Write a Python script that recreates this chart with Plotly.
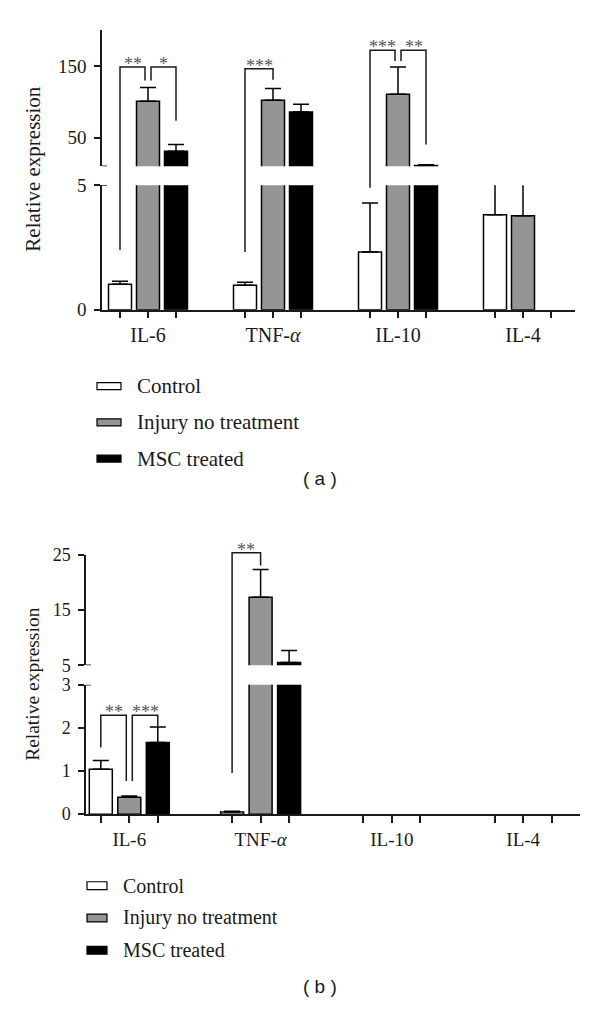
import plotly.graph_objects as go

# ---------------- data ----------------
CYTOKINES = ["IL-6", "TNF-<i>α</i>", "IL-10", "IL-4"]
SERIES = ["Control", "Injury no treatment", "MSC treated"]

# panel (a)
A_CONTROL = [1.02, 0.98, 2.32, 3.82]
A_CONTROL_ERR = [0.12, 0.12, 1.97, 1.5]
A_INJURY = [100.7, 102.0, 110.3, 3.78]
A_INJURY_ERR = [19.2, 16.5, 38.3, 1.5]
A_MSC = [30.8, 85.6, 11.0, None]
A_MSC_ERR = [9.6, 11.0, 1.1, None]

# panel (b)
B_CONTROL = [1.045, 0.05, None, None]
B_CONTROL_ERR = [0.2, 0.02, None, None]
B_INJURY = [0.39, 17.3, None, None]
B_INJURY_ERR = [0.03, 5.0, None, None]
B_MSC = [1.66, 5.5, None, None]
B_MSC_ERR = [0.36, 2.15, None, None]

# significance brackets: (group, left bar, right bar, left foot, top, right foot, label)
A_BRACKETS = [
    (0, 0, 1, 2.4, 148.6, 129.5, "**"),
    (0, 1, 2, 129.5, 148.6, 73.3, "*"),
    (1, 0, 1, 2.32, 145.9, 130.8, "***"),
    (2, 0, 1, 4.9, 171.9, 156.9, "***"),
    (2, 1, 2, 156.9, 171.9, 40.4, "**"),
]
B_BRACKETS = [
    (0, 0, 1, 1.545, 2.295, 0.77, "**"),
    (0, 1, 2, 0.77, 2.295, 2.045, "***"),
    (1, 0, 1, 0.955, 25.35, 23.05, "**"),
]

# ---------------- styling / layout ----------------
W, H = 600, 1024
FILLS = ["#ffffff", "#959595", "#000000"]
SERIF = "Liberation Serif, Times New Roman, serif"
SANS = "Liberation Sans, Arial, sans-serif"
INK = "#1a1a1a"


def py(px):
    return 1 - px / H


PANELS = [
    dict(
        xa="x", ylo="y", yhi="y2",
        x_px=(102, 575), c0=148.0, step=125.0, bar_px=28.0, width_px=23.0,
        lo_px=(306, 179), lo_range=(0, 5), lo_ticks=[0, 5],
        hi_px=(159.5, 20.5), hi_range=(10, 200), hi_ticks=[50, 150],
        tickfont=19, labfont=20,
        data=[(A_CONTROL, A_CONTROL_ERR), (A_INJURY, A_INJURY_ERR), (A_MSC, A_MSC_ERR)],
        brackets=A_BRACKETS,
        title_y=162, title_size=21,
        legend=dict(box_x=(97, 121), box_h=7, ys=[384, 421, 458], text_x=135, size=21),
        tag="( a )", tag_y=478,
    ),
    dict(
        xa="x2", ylo="y3", yhi="y4",
        x_px=(86, 580), c0=129.3, step=131.3, bar_px=28.5, width_px=23.0,
        lo_px=(821, 689), lo_range=(0, 3), lo_ticks=[0, 1, 2, 3],
        hi_px=(669, 556), hi_range=(5, 25), hi_ticks=[5, 15, 25],
        tickfont=18, labfont=19,
        data=[(B_CONTROL, B_CONTROL_ERR), (B_INJURY, B_INJURY_ERR), (B_MSC, B_MSC_ERR)],
        brackets=B_BRACKETS,
        title_y=689, title_size=19.5,
        legend=dict(box_x=(87, 107), box_h=8, ys=[894, 927, 960], text_x=121, size=20),
        tag="( b )", tag_y=997,
    ),
]


def axname(ref):
    return ref[0] + "axis" + ref[1:]


fig = go.Figure()
layout = dict(
    width=W, height=H, margin=dict(l=0, r=0, t=0, b=0),
    paper_bgcolor="white", plot_bgcolor="white",
    barmode="overlay", showlegend=False,
)
shapes = []
annotations = []

for p in PANELS:
    n = len(CYTOKINES)
    off = p["bar_px"] / p["step"]
    bw = p["width_px"] / p["step"]

    def xpos(g, j, p=p, off=off):
        return g + (j - 1) * off

    xr = [(p["x_px"][0] - p["c0"]) / p["step"], (p["x_px"][1] - p["c0"]) / p["step"]]

    # bars in both segments of the broken axis
    for seg in ("ylo", "yhi"):
        for j, (vals, errs) in enumerate(p["data"]):
            fig.add_trace(go.Bar(
                x=[xpos(g, j) for g in range(n)],
                y=vals,
                width=bw,
                marker=dict(color=FILLS[j], line=dict(color="#000000", width=1.5)),
                error_y=dict(type="data", symmetric=False,
                             array=[e if e is not None else 0 for e in errs],
                             arrayminus=[0] * n,
                             color="#000000", thickness=1.5, width=8),
                xaxis=p["xa"], yaxis=p[seg],
                name=SERIES[j], hoverinfo="skip",
            ))

    tickvals, ticktext = [], []
    for g in range(n):
        for j in range(3):
            tickvals.append(xpos(g, j))
            ticktext.append(CYTOKINES[g] if j == 1 else "")

    layout[axname(p["xa"])] = dict(
        domain=[p["x_px"][0] / W, p["x_px"][1] / W], range=xr, anchor=p["ylo"],
        showline=True, linecolor=INK, linewidth=1.5, showgrid=False, zeroline=False,
        ticks="outside", ticklen=7, tickwidth=1.5, tickcolor=INK,
        tickvals=tickvals, ticktext=ticktext,
        tickfont=dict(family=SERIF, size=p["labfont"], color=INK),
        fixedrange=True,
    )
    for seg, pxk, rk, tk in (("ylo", "lo_px", "lo_range", "lo_ticks"), ("yhi", "hi_px", "hi_range", "hi_ticks")):
        layout[axname(p[seg])] = dict(
            domain=[py(p[pxk][0]), py(p[pxk][1])], range=list(p[rk]), anchor=p["xa"],
            showline=True, linecolor=INK, linewidth=1.5, showgrid=False, zeroline=False,
            ticks="outside", ticklen=6, tickwidth=1.5, tickcolor=INK,
            tickvals=p[tk], tickfont=dict(family=SERIF, size=p["tickfont"], color=INK),
            ticklabelstandoff=4, fixedrange=True,
        )

    # break caps on the y axis
    for yref, val in ((p["ylo"], p["lo_range"][1]), (p["yhi"], p["hi_range"][0])):
        shapes.append(dict(type="line", xref=p["xa"], yref=yref, xsizemode="pixel",
                           xanchor=xr[0], x0=-6, x1=5, y0=val, y1=val,
                           line=dict(color=INK, width=1.5)))

    # value -> paper coordinate across the broken axis
    def vpaper(v, p=p):
        lo0, lo1 = p["lo_range"]
        if v <= lo1:
            a, b = p["lo_px"]
            px = a + (b - a) * (v - lo0) / (lo1 - lo0)
        else:
            hi0, hi1 = p["hi_range"]
            a, b = p["hi_px"]
            px = a + (b - a) * (v - hi0) / (hi1 - hi0)
        return py(px)

    lefts = {(b[0], b[1]) for b in p["brackets"]}
    rights = {(b[0], b[2]) for b in p["brackets"]}
    sh = 3.0 / p["step"]
    for (g, jl, jr, yl, yt, yr, lab) in p["brackets"]:
        xl = xpos(g, jl) + (sh if (g, jl) in rights else 0)
        xrr = xpos(g, jr) - (sh if (g, jr) in lefts else 0)
        path = "M {},{} L {},{} L {},{} L {},{}".format(
            xl, vpaper(yl), xl, vpaper(yt), xrr, vpaper(yt), xrr, vpaper(yr))
        shapes.append(dict(type="path", path=path, xref=p["xa"], yref="paper",
                           line=dict(color=INK, width=1.5)))
        annotations.append(dict(
            x=(xl + xrr) / 2, y=vpaper(yt), xref=p["xa"], yref="paper",
            text=lab, showarrow=False, xanchor="center", yanchor="bottom", yshift=-9,
            font=dict(family=SERIF, size=18, color="#555555"),
        ))

    # y-axis title spanning both segments
    annotations.append(dict(
        x=33 / W, y=py(p["title_y"]), xref="paper", yref="paper",
        xanchor="center", yanchor="middle",
        text="Relative expression", textangle=-90, showarrow=False,
        font=dict(family=SERIF, size=p["title_size"], color=INK),
    ))

    # legend
    lg = p["legend"]
    for j, name in enumerate(SERIES):
        yc = lg["ys"][j]
        shapes.append(dict(type="rect", xref="paper", yref="paper",
                           x0=lg["box_x"][0] / W, x1=lg["box_x"][1] / W,
                           y0=py(yc + lg["box_h"] / 2), y1=py(yc - lg["box_h"] / 2),
                           fillcolor=FILLS[j], line=dict(color="#000000", width=1.2)))
        annotations.append(dict(
            x=lg["text_x"] / W, y=py(yc), xref="paper", yref="paper",
            xanchor="left", yanchor="middle", text=name, showarrow=False,
            font=dict(family=SERIF, size=lg["size"], color=INK),
        ))

    annotations.append(dict(
        x=320 / W, y=py(p["tag_y"]), xref="paper", yref="paper",
        xanchor="center", yanchor="middle",
        text=p["tag"], showarrow=False,
        font=dict(family=SANS, size=19, color=INK),
    ))

layout["shapes"] = shapes
layout["annotations"] = annotations
fig.update_layout(**layout)
fig.write_html("out.html", config={"displayModeBar": False},
               post_script="document.body.style.margin='0px';")
